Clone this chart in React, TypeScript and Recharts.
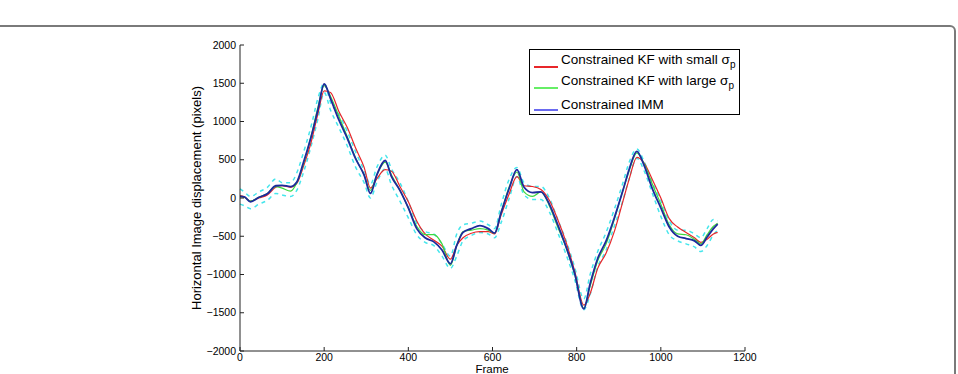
import React from "react";
import { LineChart, Line, XAxis, YAxis } from "recharts";

const FRAMES = [
  0, 10, 25, 45, 65, 85, 100, 120, 135, 150, 170, 185, 200, 215, 235, 255, 275, 295, 310, 325,
  345, 360, 380, 400, 420, 440, 460, 480, 500, 515, 530, 550, 570, 590, 605, 620, 640, 658, 675, 695,
  715, 735, 755, 775, 795, 817, 832, 850, 870, 890, 910, 925, 943, 960, 980, 1000, 1020, 1040, 1060, 1080,
  1095, 1110, 1125, 1135,
];

const IMM = [
  20, 15, -50, 10, 55, 160, 165, 150, 210, 450, 820, 1150, 1490, 1300, 1020, 780, 510, 300, 60, 300,
  490, 280, 100, -130, -400, -520, -570, -680, -860, -620, -450, -400, -360, -400, -460, -200, 130, 370, 140, 70,
  80, -80, -350, -640, -980, -1450, -1120, -790, -560, -250, 100, 380, 610, 430, 120, -130, -380, -500, -530, -560,
  -620, -510, -400, -340,
];

const KF_SMALL = [
  30, 15, -40, 0, 40, 140, 160, 140, 190, 400, 750, 1100, 1400, 1380, 1130, 920, 650, 400, 130, 250,
  370, 350, 150, -50, -300, -470, -550, -630, -800, -620, -520, -460, -440, -440, -470, -230, 60, 280, 160, 150,
  110, -30, -280, -580, -950, -1400, -1250, -920, -720, -430, -40, 250, 530, 460, 240, 0, -270, -380, -450, -520,
  -580, -540, -470, -450,
];

const KF_LARGE = [
  20, 10, -40, 10, 60, 150, 130, 90, 200, 430, 830, 1180, 1470, 1330, 1070, 800, 520, 300, 100, 300,
  470, 300, 100, -130, -370, -480, -480, -600, -880, -620, -440, -420, -400, -420, -460, -200, 150, 340, 80, 20,
  80, -100, -380, -650, -990, -1440, -1150, -820, -600, -270, 100, 360, 590, 450, 180, -80, -350, -470, -480, -540,
  -600, -480, -370, -330,
];

const BOUND_UPPER = [
  120, 80, 20, 80, 140, 250, 200, 200, 330, 580, 960, 1300, 1500, 1250, 1100, 870, 600, 360, 180, 400,
  560, 380, 200, -50, -330, -440, -470, -600, -760, -470, -350, -330, -300, -350, -400, -100, 250, 400, 200, 150,
  150, 0, -280, -560, -900, -1320, -1000, -700, -450, -140, 200, 470, 640, 480, 200, -30, -300, -420, -420, -470,
  -520, -400, -280, -300,
];

const BOUND_LOWER = [
  -80, -100, -140, -80, -30, 60, 40, 20, 100, 320, 700, 1030, 1380, 1150, 920, 680, 400, 200, 0, 200,
  380, 170, -40, -260, -480, -580, -620, -760, -920, -760, -560, -490, -450, -470, -520, -330, 0, 280, 40, -20,
  -20, -180, -450, -740, -1060, -1460, -1260, -900, -680, -360, -30, 260, 520, 360, 60, -240, -480, -560, -600, -640,
  -700, -620, -480, -420,
];

const X_TICKS = [0, 200, 400, 600, 800, 1000, 1200];
const Y_TICKS = [-2000, -1500, -1000, -500, 0, 500, 1000, 1500, 2000];

const rows = FRAMES.map((f, i) => ({
  f,
  imm: IMM[i],
  small: KF_SMALL[i],
  large: KF_LARGE[i],
  up: BOUND_UPPER[i],
  lo: BOUND_LOWER[i],
}));

const FONT = '"Liberation Sans", Arial, Helvetica, sans-serif';
const minus = (v: number) => String(v).replace("-", "\u2212");

function LegendRow({ top, color, children }: { top: number; color: string; children: React.ReactNode }) {
  return (
    <div style={{ position: "absolute", left: 4, top, height: 16, display: "flex", alignItems: "center" }}>
      <div style={{ width: 24, height: 0, borderTop: `2px solid ${color}`, marginTop: 9 }} />
      <span style={{ marginLeft: 3, fontSize: 13.5, whiteSpace: "nowrap", lineHeight: "16px" }}>{children}</span>
    </div>
  );
}

export default function App() {
  return (
    <div style={{ position: "absolute", left: 0, top: 0, width: 958, height: 374, overflow: "hidden", background: "#fff", fontFamily: FONT }}>
      <div
        style={{
          position: "absolute", left: -20, top: 25, width: 976, height: 420,
          border: "2px solid #7a7a7a", borderRadius: 6, boxSizing: "border-box",
        }}
      />
      <LineChart
        width={958}
        height={374}
        data={rows}
        margin={{ top: 45, right: 213, left: 180, bottom: 0 }}
        style={{ position: "absolute", left: 0, top: 0 }}
      >
        <XAxis
          dataKey="f"
          type="number"
          domain={[0, 1200]}
          ticks={X_TICKS}
          height={23}
          tickSize={-4}
          tickMargin={7}
          stroke="#222"
          tick={{ fill: "#000", fontSize: 10.5, fontFamily: FONT }}
          interval={0}
        />
        <YAxis
          type="number"
          domain={[-2000, 2000]}
          ticks={Y_TICKS}
          width={60}
          tickSize={-4}
          tickMargin={8}
          stroke="#222"
          tick={{ fill: "#000", fontSize: 10.5, fontFamily: FONT }}
          tickFormatter={minus}
          interval={0}
        />
        <Line dataKey="up" type="monotone" stroke="#45e6ec" strokeWidth={1.5} strokeDasharray="4 4" dot={false} isAnimationActive={false} />
        <Line dataKey="lo" type="monotone" stroke="#45e6ec" strokeWidth={1.5} strokeDasharray="4 4" dot={false} isAnimationActive={false} />
        <Line dataKey="small" type="monotone" stroke="#e8262a" strokeWidth={1.2} dot={false} isAnimationActive={false} />
        <Line dataKey="large" type="monotone" stroke="#3ed83e" strokeWidth={1.2} dot={false} isAnimationActive={false} />
        <Line dataKey="imm" type="monotone" stroke="#1c2a9c" strokeWidth={1.8} dot={false} isAnimationActive={false} />
      </LineChart>
      <div
        style={{
          position: "absolute", left: 196, top: 198, transform: "translate(-50%, -50%) rotate(-90deg)",
          fontSize: 13, whiteSpace: "nowrap", color: "#000",
        }}
      >
        Horizontal Image displacement (pixels)
      </div>
      <div
        style={{
          position: "absolute", left: 492, top: 364, transform: "translateX(-50%)",
          fontSize: 11.5, lineHeight: "10px", color: "#000",
        }}
      >
        Frame
      </div>
      <div
        style={{
          position: "absolute", left: 529, top: 49, width: 211, height: 66,
          border: "1px solid #000", background: "#fff", boxSizing: "border-box", color: "#000",
        }}
      >
        <LegendRow top={4} color="#e8262a">
          Constrained KF with small σ<sub style={{ fontSize: 10, verticalAlign: "-4px" }}>p</sub>
        </LegendRow>
        <LegendRow top={25} color="#66ee66">
          Constrained KF with large σ<sub style={{ fontSize: 10, verticalAlign: "-4px" }}>p</sub>
        </LegendRow>
        <LegendRow top={47} color="#6a6af0">
          Constrained IMM
        </LegendRow>
      </div>
    </div>
  );
}
